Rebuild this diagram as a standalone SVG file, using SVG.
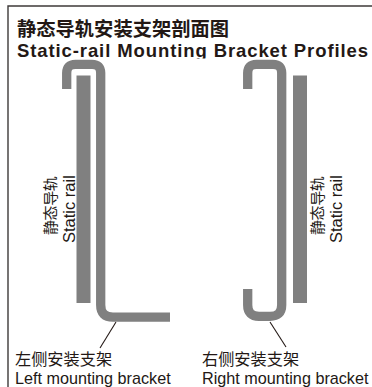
<svg xmlns="http://www.w3.org/2000/svg" width="372" height="387" viewBox="0 0 372 387">
<style>
text{fill:#231815;font-family:"Liberation Sans","Noto Sans CJK SC",sans-serif}
.t{font-weight:bold}
.l{font-size:16.2px}
.c{font-size:15px;letter-spacing:-.4px}
.s{font-size:16.5px}
.br{fill:none;stroke:#808080;stroke-width:9.3}
.rail{fill:#808080}
.lead{fill:none;stroke:#231815;stroke-width:1.1}
</style>
<rect width="372" height="387" fill="#fff"/>
<path id="frame" d="M8 387V6H372" fill="none" stroke="#3e3a39" stroke-width="1.4"/>
<g id="title">
<text class="t" x="17" y="35.500" font-size="19.300px">静态导轨安装支架剖面图</text>
<text class="t" x="17" y="57" font-size="18.500px" textLength="351" lengthAdjust="spacing">Static-rail Mounting Bracket Profiles</text>
<rect x="17" y="58.500" width="352" height="6" fill="#fff"/>
</g>
<g id="left-rail">
<rect class="rail" x="76.500" y="75.500" width="14" height="227.500"/>
<text class="c" transform="translate(56,235) rotate(-90)">静态导轨</text>
<text class="s" transform="translate(75,243) rotate(-90)">Static rail</text>
</g>
<g id="left-bracket">
<path class="br" d="M66.700 89V73Q66.700 64.300 75.400 64.300H92Q100.700 64.300 100.700 73V305Q100.700 317.200 113 317.200H170"/>
<text class="l" x="15" y="365">左侧安装支架</text>
<text class="l" x="15" y="384">Left mounting bracket</text>
</g>
<g id="right-rail">
<rect class="rail" x="293" y="75.500" width="14" height="227.500"/>
<text class="c" transform="translate(323,235) rotate(-90)">静态导轨</text>
<text class="s" transform="translate(342,243) rotate(-90)">Static rail</text>
</g>
<g id="right-bracket">
<path class="br" d="M247.700 89V73Q247.700 64.300 256.400 64.300H273Q281.700 64.300 281.700 73V305Q281.700 316.300 270 316.300H259Q247.700 316.300 247.700 305V289"/>
<text class="l" x="202" y="365">右侧安装支架</text>
<text class="l" x="202" y="384">Right mounting bracket</text>
</g>
<g id="connectors">
<path class="lead" d="M116 322L100 348"/>
<path class="lead" d="M270 322L286 347"/>
</g>
</svg>
